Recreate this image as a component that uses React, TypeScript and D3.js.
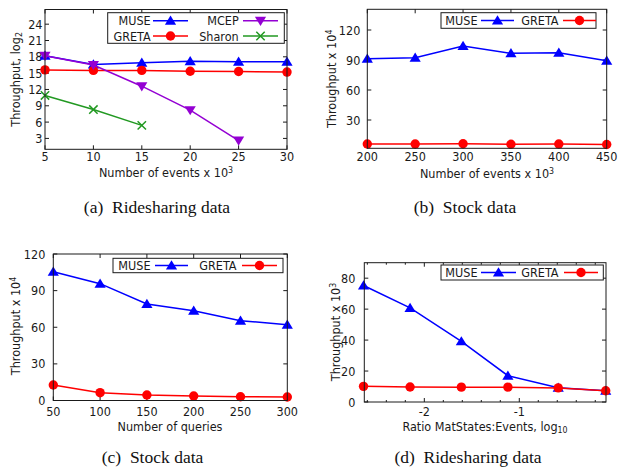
import React from 'react';
import * as d3 from 'd3';

// ---------- data ----------
const aEvents = [5, 10, 15, 20, 25, 30];
const aMuse = [18.2, 16.6, 16.9, 17.2, 17.1, 17.1];
const aGreta = [15.6, 15.5, 15.5, 15.35, 15.3, 15.2];
const aMcepX = [5, 10, 15, 20, 25];
const aMcep = [18.2, 16.5, 12.6, 8.2, 2.6];
const aSharonX = [5, 10, 15];
const aSharon = [10.9, 8.3, 5.4];
const aXTicks = [5, 10, 15, 20, 25, 30];
const aYTicks = [3, 6, 9, 12, 15, 18, 21, 24];

const bEvents = [200, 250, 300, 350, 400, 450];
const bMuse = [91.3, 92.3, 104, 96.7, 97.3, 89.3];
const bGreta = [6, 6, 6.3, 5.7, 6, 5.5];
const bXTicks = [200, 250, 300, 350, 400, 450];
const bYTicks = [30, 60, 90, 120];

const cQueries = [50, 100, 150, 200, 250, 300];
const cMuse = [105.5, 95.7, 79, 73.6, 65.4, 62.1];
const cGreta = [12.7, 6.4, 4.5, 3.7, 3.1, 2.9];
const cXTicks = [50, 100, 150, 200, 250, 300];
const cYTicks = [0, 30, 60, 90, 120];

const dRatio = [-2.64, -2.15, -1.61, -1.12, -0.59, -0.09];
const dMuse = [75.3, 60.8, 39.2, 17, 9.2, 7.3];
const dGreta = [10.1, 9.7, 9.6, 9.6, 9.1, 7.3];
const dXTicks = [-2, -1];
const dXMinor = [-2.6, -2.4, -2.2, -1.8, -1.6, -1.4, -1.2, -0.8, -0.6, -0.4, -0.2];
const dYTicks = [0, 20, 40, 60, 80];

const BLUE = '#0000ff';
const RED = '#ff0000';
const PURPLE = '#9400d3';
const GREEN = '#229922';
const INK = '#1a1a1a';
const FONT = '"DejaVu Sans Condensed", "DejaVu Sans", Verdana, sans-serif';
const SERIF = '"Liberation Serif", "DejaVu Serif", serif';
const FS = 12.5;

type MarkerKind = 'up' | 'down' | 'circle' | 'x';

function Marker({ kind, x, y, color }: { kind: MarkerKind; x: number; y: number; color: string }) {
  if (kind === 'circle') return <circle cx={x} cy={y} r={4.7} fill={color} />;
  if (kind === 'up')
    return <path d={`M${x},${y - 5.2} L${x + 5.6},${y + 4} L${x - 5.6},${y + 4} Z`} fill={color} />;
  if (kind === 'down')
    return <path d={`M${x},${y + 5.2} L${x + 5.6},${y - 4} L${x - 5.6},${y - 4} Z`} fill={color} />;
  return (
    <path
      d={`M${x - 4.2},${y - 4.2} L${x + 4.2},${y + 4.2} M${x - 4.2},${y + 4.2} L${x + 4.2},${y - 4.2}`}
      stroke={color}
      strokeWidth={1.5}
      fill="none"
    />
  );
}

type Series = { xs: number[]; ys: number[]; color: string; marker: MarkerKind };
type LegendItem = { name: string; color: string; marker: MarkerKind; textEnd: number; l0: number; l1: number; y: number };

function Panel(props: {
  x0: number; x1: number; y0: number; y1: number;
  xDomain: [number, number]; yDomain: [number, number];
  xTicks: number[]; yTicks: number[]; xMinor?: number[];
  xFmt?: (v: number) => string;
  series: Series[];
  legendBox: [number, number, number, number];
  legend: LegendItem[];
  xLabel: React.ReactNode; xLabelPos: [number, number];
  yLabel: React.ReactNode; yLabelPos: [number, number];
  yGap: number; xTickY: number;
  caption: React.ReactNode; captionPos: [number, number];
}) {
  const { x0, x1, y0, y1 } = props;
  const xs = d3.scaleLinear().domain(props.xDomain).range([x0, x1]);
  const ys = d3.scaleLinear().domain(props.yDomain).range([y1, y0]);
  const line = d3.line<[number, number]>().x((d) => xs(d[0])).y((d) => ys(d[1]));
  const T = 4;
  const fmt = props.xFmt || ((v: number) => String(v));
  return (
    <g>
      {props.yTicks.map((t) => (
        <g key={'y' + t}>
          <line x1={x0} x2={x0 + T} y1={ys(t)} y2={ys(t)} stroke={INK} strokeWidth={1} />
          <line x1={x1} x2={x1 - T} y1={ys(t)} y2={ys(t)} stroke={INK} strokeWidth={1} />
          <text x={x0 - props.yGap} y={ys(t)} dy="0.36em" textAnchor="end" fontSize={FS} fill={INK}>
            {t}
          </text>
        </g>
      ))}
      {props.xTicks.map((t) => (
        <g key={'x' + t}>
          <line x1={xs(t)} x2={xs(t)} y1={y1} y2={y1 - T} stroke={INK} strokeWidth={1} />
          <line x1={xs(t)} x2={xs(t)} y1={y0} y2={y0 + T} stroke={INK} strokeWidth={1} />
          <text x={xs(t)} y={props.xTickY} dy="0.36em" textAnchor="middle" fontSize={FS} fill={INK}>
            {fmt(t)}
          </text>
        </g>
      ))}
      {(props.xMinor || []).map((t) => (
        <g key={'m' + t}>
          <line x1={xs(t)} x2={xs(t)} y1={y1} y2={y1 - 2} stroke={INK} strokeWidth={1} />
          <line x1={xs(t)} x2={xs(t)} y1={y0} y2={y0 + 2} stroke={INK} strokeWidth={1} />
        </g>
      ))}
      {props.series.map((s, i) => {
        const pts = s.xs.map((x, j) => [x, s.ys[j]] as [number, number]);
        return (
          <g key={'s' + i}>
            <path d={line(pts) || ''} fill="none" stroke={s.color} strokeWidth={1.5} />
            {pts.map((p, j) => (
              <Marker key={j} kind={s.marker} x={xs(p[0])} y={ys(p[1])} color={s.color} />
            ))}
          </g>
        );
      })}
      <rect x={x0} y={y0} width={x1 - x0} height={y1 - y0} fill="none" stroke={INK} strokeWidth={1} />
      <rect
        x={props.legendBox[0]}
        y={props.legendBox[1]}
        width={props.legendBox[2] - props.legendBox[0]}
        height={props.legendBox[3] - props.legendBox[1]}
        fill="white"
        stroke={INK}
        strokeWidth={1}
      />
      {props.legend.map((it) => (
        <g key={it.name}>
          <text x={it.textEnd} y={it.y} dy="0.36em" textAnchor="end" fontSize={FS} fill={INK}>
            {it.name}
          </text>
          <line x1={it.l0} x2={it.l1} y1={it.y} y2={it.y} stroke={it.color} strokeWidth={1.5} />
          <Marker kind={it.marker} x={(it.l0 + it.l1) / 2} y={it.y} color={it.color} />
        </g>
      ))}
      <text x={props.xLabelPos[0]} y={props.xLabelPos[1]} dy="0.36em" textAnchor="middle" fontSize={FS} fill={INK}>
        {props.xLabel}
      </text>
      <text
        transform={`translate(${props.yLabelPos[0]},${props.yLabelPos[1]}) rotate(-90)`}
        dy="0.36em"
        textAnchor="middle"
        fontSize={FS}
        fill={INK}
      >
        {props.yLabel}
      </text>
      <text
        x={props.captionPos[0]}
        y={props.captionPos[1]}
        dy="0.33em"
        textAnchor="middle"
        fontSize={17.5}
        fontFamily={SERIF}
        fill="#111"
        style={{ whiteSpace: 'pre' }}
      >
        {props.caption}
      </text>
    </g>
  );
}

const sup = (s: string) => (
  <tspan dy="-0.45em" fontSize="0.7em">
    {s}
  </tspan>
);
const sub = (s: string) => (
  <tspan dy="0.3em" fontSize="0.7em">
    {s}
  </tspan>
);

export default function App() {
  return (
    <svg
      width={619}
      height={467}
      style={{ position: 'absolute', left: 0, top: 0, background: 'white' }}
      fontFamily={FONT}
    >
      {/* (a) */}
      <Panel
        x0={45} x1={287} y0={9.5} y1={149.3}
        xDomain={[5, 30]} yDomain={[1, 26.7]}
        xTicks={aXTicks} yTicks={aYTicks}
        series={[
          { xs: aEvents, ys: aMuse, color: BLUE, marker: 'up' },
          { xs: aEvents, ys: aGreta, color: RED, marker: 'circle' },
          { xs: aMcepX, ys: aMcep, color: PURPLE, marker: 'down' },
          { xs: aSharonX, ys: aSharon, color: GREEN, marker: 'x' },
        ]}
        legendBox={[107.7, 12.7, 284.3, 43.3]}
        legend={[
          { name: 'MUSE', color: BLUE, marker: 'up', textEnd: 150.7, l0: 153, l1: 188, y: 20.7 },
          { name: 'GRETA', color: RED, marker: 'circle', textEnd: 150.7, l0: 153, l1: 188, y: 36 },
          { name: 'MCEP', color: PURPLE, marker: 'down', textEnd: 238.7, l0: 243, l1: 278, y: 20.7 },
          { name: 'Sharon', color: GREEN, marker: 'x', textEnd: 238.7, l0: 243, l1: 278, y: 36 },
        ]}
        xLabel={<>Number of events x 10{sup('3')}</>}
        xLabelPos={[166, 172.5]}
        yLabel={<>Throughput, log{sub('2')}</>}
        yLabelPos={[15, 79.4]}
        yGap={2.5}
        xTickY={156.5}
        caption={'(a)  Ridesharing data'}
        captionPos={[157, 207]}
      />
      {/* (b) */}
      <Panel
        x0={367.3} x1={606.7} y0={9.3} y1={148.3}
        xDomain={[200, 450]} yDomain={[1.7, 140.7]}
        xTicks={bXTicks} yTicks={bYTicks}
        series={[
          { xs: bEvents, ys: bMuse, color: BLUE, marker: 'up' },
          { xs: bEvents, ys: bGreta, color: RED, marker: 'circle' },
        ]}
        legendBox={[441, 12.7, 596, 28.3]}
        legend={[
          { name: 'MUSE', color: BLUE, marker: 'up', textEnd: 477.5, l0: 481, l1: 514, y: 20.5 },
          { name: 'GRETA', color: RED, marker: 'circle', textEnd: 558.5, l0: 563, l1: 596, y: 20.5 },
        ]}
        xLabel={<>Number of events x 10{sup('3')}</>}
        xLabelPos={[487, 173.5]}
        yLabel={<>Throughput x 10{sup('4')}</>}
        yLabelPos={[331, 78.8]}
        yGap={7}
        xTickY={156.5}
        caption={'(b)  Stock data'}
        captionPos={[465, 207]}
      />
      {/* (c) */}
      <Panel
        x0={53.3} x1={287.3} y0={254} y1={400.5}
        xDomain={[50, 300]} yDomain={[0, 120]}
        xTicks={cXTicks} yTicks={cYTicks}
        series={[
          { xs: cQueries, ys: cMuse, color: BLUE, marker: 'up' },
          { xs: cQueries, ys: cGreta, color: RED, marker: 'circle' },
        ]}
        legendBox={[113, 258.3, 283, 272.7]}
        legend={[
          { name: 'MUSE', color: BLUE, marker: 'up', textEnd: 150.5, l0: 155, l1: 188, y: 265.5 },
          { name: 'GRETA', color: RED, marker: 'circle', textEnd: 236.5, l0: 242, l1: 277, y: 265.5 },
        ]}
        xLabel={'Number of queries'}
        xLabelPos={[170, 426]}
        yLabel={<>Throughput x 10{sup('4')}</>}
        yLabelPos={[15, 326]}
        yGap={8}
        xTickY={411}
        caption={'(c)  Stock data'}
        captionPos={[152.5, 457.5]}
      />
      {/* (d) */}
      <Panel
        x0={364.3} x1={606} y0={262.7} y1={402}
        xDomain={[-2.632, -0.087]} yDomain={[0, 90]}
        xTicks={dXTicks} yTicks={dYTicks} xMinor={dXMinor}
        xFmt={(v) => (v < 0 ? '-' + Math.abs(v) : String(v))}
        series={[
          { xs: dRatio, ys: dMuse, color: BLUE, marker: 'up' },
          { xs: dRatio, ys: dGreta, color: RED, marker: 'circle' },
        ]}
        legendBox={[441, 265, 603.3, 280]}
        legend={[
          { name: 'MUSE', color: BLUE, marker: 'up', textEnd: 477.5, l0: 481, l1: 516, y: 272.5 },
          { name: 'GRETA', color: RED, marker: 'circle', textEnd: 558.5, l0: 564, l1: 598, y: 272.5 },
        ]}
        xLabel={<>Ratio MatStates:Events, log{sub('10')}</>}
        xLabelPos={[485, 426]}
        yLabel={<>Throughput x 10{sup('3')}</>}
        yLabelPos={[335, 332]}
        yGap={9}
        xTickY={411}
        caption={'(d)  Ridesharing data'}
        captionPos={[468, 457.5]}
      />
    </svg>
  );
}
